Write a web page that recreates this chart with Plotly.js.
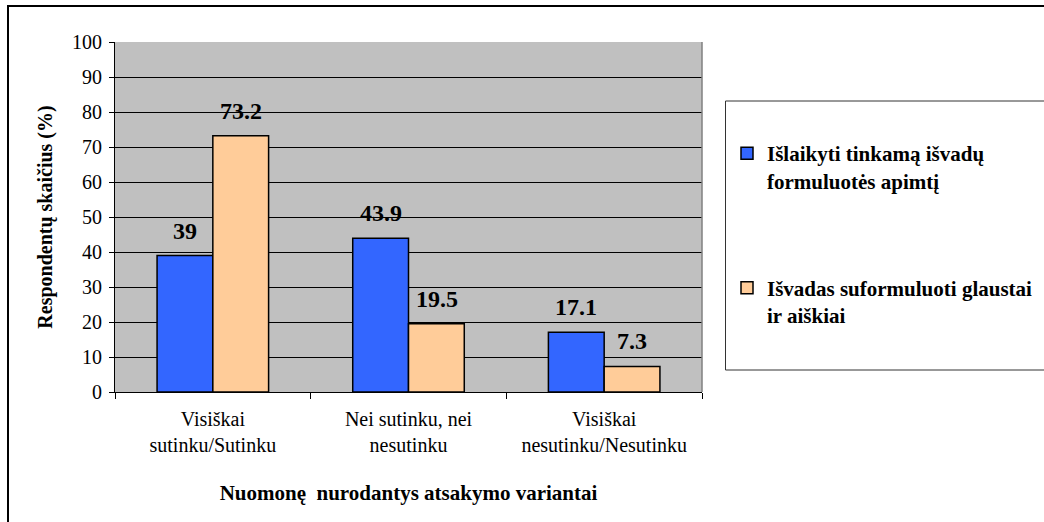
<!DOCTYPE html>
<html>
<head>
<meta charset="utf-8">
<script src="https://cdn.plot.ly/plotly-3.0.1.min.js"></script>
<style>
html,body{margin:0;padding:0;background:#fff;}
#chart{width:1044px;height:522px;}
</style>
</head>
<body>
<div id="chart"></div>
<script>
const categories = ["Visiškai<br>sutinku/Sutinku", "Nei sutinku, nei<br>nesutinku", "Visiškai<br>nesutinku/Nesutinku"];
const seriesNames = ["Išlaikyti tinkamą išvadų<br>formuluotės apimtį", "Išvadas suformuluoti glaustai<br>ir aiškiai"];
const seriesA = [39, 43.9, 17.1];
const seriesB = [73.2, 19.5, 7.3];
const yTickVals = [0, 10, 20, 30, 40, 50, 60, 70, 80, 90, 100];

const serifFam = "'Liberation Serif', 'Times New Roman', Times, serif";
const colors = ["#3366FF", "#FFCC99"];
const allSeries = [seriesA, seriesB];

const traces = allSeries.map((vals, i) => ({
  type: "bar",
  name: "<b>" + seriesNames[i].replace("<br>", "</b><br><b>") + "</b>",
  x: categories,
  y: vals,
  legendgroup: "g" + i,
  marker: {color: colors[i], line: {color: "#000", width: 1.5}},
  hoverinfo: "none"
}));

const annotations = [];
allSeries.forEach((vals, i) => {
  vals.forEach((v, j) => {
    annotations.push({
      x: categories[j], y: v, xref: "x", yref: "y",
      text: "<b>" + String(v) + "</b>", showarrow: false,
      yanchor: "bottom", xanchor: "center",
      xshift: i === 0 ? -28 : 28, yshift: 10,
      font: {family: serifFam, size: 24, color: "#000"}
    });
  });
});

const L = 115, R = 702, T = 42, B = 392;
const pw = R - L, ph = B - T;
const px = v => (v - L) / pw;
const py = v => (B - v) / ph;

const layout = {
  width: 1044, height: 522,
  margin: {l: L, r: 1044 - R, t: T, b: 522 - B, autoexpand: false},
  paper_bgcolor: "#fff",
  plot_bgcolor: "#C0C0C0",
  barmode: "group",
  bargap: 0.43,
  bargroupgap: 0,
  font: {family: serifFam, color: "#000"},
  xaxis: {
    type: "category",
    showline: true, linecolor: "#000", linewidth: 1,
    ticks: "outside", ticklen: 6, tickcolor: "#000", tickson: "boundaries",
    ticklabelstandoff: 9,
    tickfont: {family: serifFam, size: 20, color: "#000"},
    showgrid: false,
    title: {text: "<b>Nuomonę\u00a0 nurodantys atsakymo variantai</b>", font: {family: serifFam, size: 21, color: "#000"}, standoff: 30},
    fixedrange: true
  },
  yaxis: {
    range: [0, 100],
    tickvals: yTickVals,
    showline: true, linecolor: "#000", linewidth: 1,
    ticks: "outside", ticklen: 5, tickcolor: "#000",
    ticklabelstandoff: 3,
    tickfont: {family: serifFam, size: 20, color: "#000"},
    showgrid: true, gridcolor: "#000", gridwidth: 1,
    zeroline: false,
    title: {text: "<b>Respondentų skaičius (%)</b>", font: {family: serifFam, size: 20, color: "#000"}, standoff: 14},
    fixedrange: true
  },
  showlegend: true,
  legend: {
    x: px(727), xanchor: "left",
    y: py(133), yanchor: "top",
    bgcolor: "rgba(0,0,0,0)", borderwidth: 0,
    traceorder: "grouped", tracegroupgap: 77,
    valign: "top",
    font: {family: serifFam, size: 21, color: "#000"}
  },
  annotations: annotations,
  shapes: [
    {type: "rect", xref: "paper", yref: "paper", x0: px(8), x1: px(1060), y0: py(540), y1: py(6), line: {color: "#000", width: 2}, fillcolor: "rgba(0,0,0,0)", layer: "below"},
    {type: "rect", xref: "paper", yref: "paper", x0: px(725.5), x1: px(1060), y0: py(370), y1: py(101), line: {color: "#333", width: 1}, fillcolor: "rgba(0,0,0,0)"},
    {type: "line", xref: "paper", yref: "paper", x0: 1, x1: 1, y0: 0, y1: 1, line: {color: "#808080", width: 1.5}}
  ]
};

Plotly.newPlot("chart", traces, layout, {displayModeBar: false, staticPlot: true});
</script>
</body>
</html>
